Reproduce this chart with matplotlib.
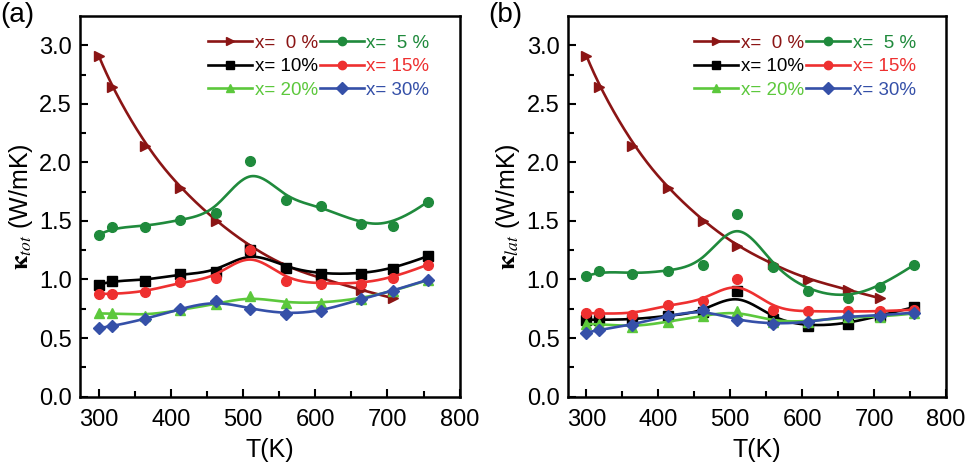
import numpy as np
import matplotlib
matplotlib.use("Agg")
from matplotlib import pyplot as plt

plt.rcParams['font.family'] = ['Liberation Sans', 'DejaVu Sans']
plt.rcParams['mathtext.fontset'] = 'stix'

# temperatures (K)
T = [300, 318, 364, 413, 462, 510, 559, 608, 663, 708, 756]
T0 = [300, 318, 364, 413, 462, 510, 559, 608, 663, 708]

labels = ['x=  0 %', 'x=  5 %', 'x= 10%', 'x= 15%', 'x= 20%', 'x= 30%']
colors = ['#8b1515', '#1f8a3c', '#000000', '#ee3030', '#5cc83c', '#3550a8']
markers = ['>', 'o', 's', 'o', '^', 'D']

# (a) total thermal conductivity
tot_0 = [2.91, 2.64, 2.14, 1.78, 1.50, 1.28, 1.11, 1.01, 0.91, 0.84]
tot_5 = [1.38, 1.445, 1.45, 1.51, 1.565, 2.01, 1.68, 1.625, 1.47, 1.455, 1.665]
tot_10 = [0.955, 0.99, 0.99, 1.047, 1.06, 1.25, 1.10, 1.047, 1.047, 1.09, 1.20]
tot_15 = [0.878, 0.875, 0.89, 0.978, 1.01, 1.255, 0.99, 0.964, 0.964, 1.013, 1.127]
tot_20 = [0.71, 0.71, 0.69, 0.74, 0.79, 0.855, 0.80, 0.80, 0.835, 0.90, 0.995]
tot_30 = [0.585, 0.60, 0.66, 0.75, 0.82, 0.75, 0.705, 0.727, 0.833, 0.904, 0.998]

# (b) lattice thermal conductivity
lat_0 = [2.91, 2.64, 2.14, 1.78, 1.50, 1.283, 1.13, 0.998, 0.913, 0.84]
lat_5 = [1.027, 1.073, 1.047, 1.073, 1.127, 1.56, 1.107, 0.904, 0.838, 0.936, 1.127]
lat_10 = [0.656, 0.656, 0.656, 0.69, 0.72, 0.90, 0.66, 0.60, 0.62, 0.69, 0.765]
lat_15 = [0.713, 0.71, 0.70, 0.785, 0.813, 1.007, 0.742, 0.727, 0.727, 0.727, 0.742]
lat_20 = [0.62, 0.62, 0.59, 0.64, 0.69, 0.733, 0.64, 0.64, 0.68, 0.68, 0.71]
lat_30 = [0.547, 0.57, 0.613, 0.69, 0.742, 0.65, 0.62, 0.633, 0.69, 0.69, 0.718]


def bspline(x, y, n=300, k=3):
    # clamped cubic B-spline using data points as control points (Origin style)
    P = np.column_stack([x, y]).astype(float)
    m = len(P)
    knots = np.concatenate([[0.0] * k, np.linspace(0, 1, m - k + 1), [1.0] * k])
    t = np.linspace(0, 1, n)
    N = np.zeros((len(knots) - 1, n))
    for i in range(len(knots) - 1):
        N[i] = (knots[i] <= t) & (t < knots[i + 1])
    last = np.max(np.nonzero(knots[:-1] < knots[1:])[0])
    N[last, -1] = 1.0
    for d in range(1, k + 1):
        newN = np.zeros((len(knots) - 1 - d, n))
        for i in range(len(knots) - 1 - d):
            a = knots[i + d] - knots[i]
            b = knots[i + d + 1] - knots[i + 1]
            left = (t - knots[i]) / a * N[i] if a > 0 else 0
            right = (knots[i + d + 1] - t) / b * N[i + 1] if b > 0 else 0
            newN[i] = left + right
        N = newN
    C = N.T @ P
    return C[:, 0], C[:, 1]


fig = plt.figure(figsize=(9.71, 4.71), dpi=100)
ax1 = fig.add_axes([0.0824, 0.158, 0.391, 0.808])
ax2 = fig.add_axes([0.5847, 0.158, 0.3896, 0.808])

panels = [(ax1, [tot_0, tot_5, tot_10, tot_15, tot_20, tot_30], r'$\mathbf{\kappa}_{tot}$ (W/mK)', '(a)', 0.0),
          (ax2, [lat_0, lat_5, lat_10, lat_15, lat_20, lat_30], r'$\mathbf{\kappa}_{lat}$ (W/mK)', '(b)', 0.503)]

draw_order = [4, 0, 1, 2, 3, 5]

for ax, series, ylab, tag, fx in panels:
    handles = [None] * 6
    for i in draw_order:
        xs = T0 if i == 0 else T
        sx, sy = bspline(xs, series[i])
        ax.plot(sx, sy, color=colors[i], lw=1.9, zorder=2 + i * 0.1)
        ax.plot(xs, series[i], ls='none', marker=markers[i], color=colors[i],
                ms=7 if markers[i] != 'D' else 6, zorder=2.05 + i * 0.1)
        h, = ax.plot([], [], color=colors[i], lw=1.9, marker=markers[i], ms=6)
        handles[i] = h
    order = [0, 2, 4, 1, 3, 5]
    leg = ax.legend([handles[j] for j in order], [labels[j] for j in order],
                    ncol=2, loc='upper right', bbox_to_anchor=(0.965, 0.995),
                    frameon=False, fontsize=13.5, handlelength=2.35,
                    handletextpad=0.15, columnspacing=0.1, labelspacing=0.33)
    for txt, j in zip(leg.get_texts(), order):
        txt.set_color(colors[j])

    ax.set_xlim(274, 800)
    ax.set_ylim(0, 3.25)
    ax.set_xticks([300, 400, 500, 600, 700, 800])
    ax.set_xticks([350, 450, 550, 650, 750], minor=True)
    ax.set_yticks([0.0, 0.5, 1.0, 1.5, 2.0, 2.5, 3.0])
    ax.set_yticks([0.25, 0.75, 1.25, 1.75, 2.25, 2.75], minor=True)
    ax.set_yticklabels(['0.0', '0.5', '1.0', '1.5', '2.0', '2.5', '3.0'])
    ax.tick_params(which='both', direction='in', labelsize=17, width=1.5,
                   top=False, right=False)
    ax.tick_params(axis='x', which='both', pad=9)
    ax.tick_params(axis='y', which='both', pad=6)
    ax.tick_params(which='major', length=6)
    ax.tick_params(which='minor', length=4)
    for s in ax.spines.values():
        s.set_linewidth(1.8)
    ax.set_xlabel('T(K)', fontsize=18, labelpad=5)
    ax.set_ylabel(ylab, fontsize=18, labelpad=3)
    fig.text(fx, 0.995, tag, fontsize=20, va='top', ha='left')

fig.savefig('out.png', dpi=100)
